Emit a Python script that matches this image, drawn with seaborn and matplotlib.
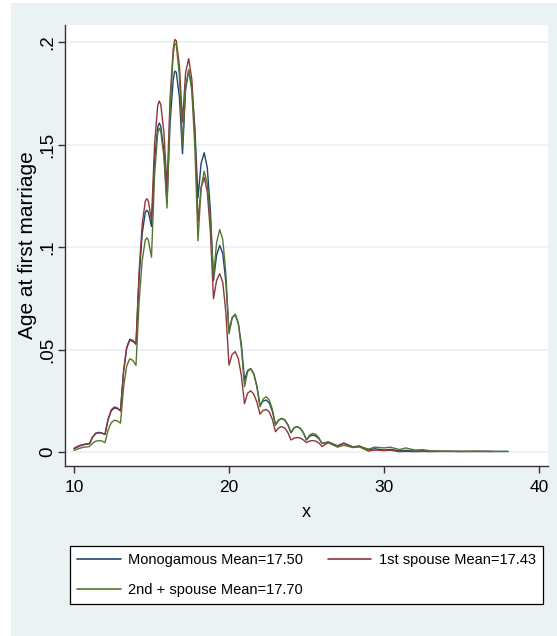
import numpy as np
import pandas as pd
import matplotlib
matplotlib.use("Agg")
import matplotlib.pyplot as plt
from matplotlib import font_manager
from matplotlib.patches import Rectangle
import seaborn as sns

# Kernel density of age at first marriage, evaluated on a common age grid
age = [
    10.0, 10.2, 10.4, 10.6, 10.8,
    11.0, 11.2, 11.4, 11.6, 11.8,
    12.0, 12.2, 12.4, 12.6, 12.8,
    13.0, 13.2, 13.4, 13.6, 13.8,
    14.0, 14.2, 14.4, 14.6, 14.7, 14.8,
    15.0, 15.2, 15.4, 15.5, 15.6, 15.8,
    16.0, 16.2, 16.4, 16.5, 16.6, 16.8,
    17.0, 17.2, 17.4, 17.6, 17.8,
    18.0, 18.2, 18.4, 18.6, 18.8,
    19.0, 19.2, 19.4, 19.6, 19.8,
    20.0, 20.2, 20.4, 20.6, 20.8,
    21.0, 21.2, 21.4, 21.6, 21.8,
    22.0, 22.2, 22.4, 22.6, 22.8,
    23.0, 23.2, 23.4, 23.6, 23.8,
    24.0, 24.2, 24.4, 24.6, 24.8,
    25.0, 25.2, 25.4, 25.6, 25.8,
    26.0, 26.4, 27.0, 27.4, 28.0, 28.4, 29.0, 29.4, 30.0, 30.4,
    31.0, 31.4, 32.0, 32.5, 33.0, 34.0, 35.0, 36.0, 37.0, 38.0,
]

monogamous = [
    .0016, .0024, .0030, .0035, .0038,
    .0040, .0073, .0092, .0096, .0093,
    .0086, .0158, .0201, .0215, .0212,
    .0202, .0395, .0511, .0550, .0545,
    .0528, .0851, .1065, .1169, .1180, .1170,
    .1100, .1423, .1585, .1605, .1589, .1465,
    .1215, .1605, .1817, .1858, .1853, .1731,
    .1455, .1769, .1860, .1782, .1575,
    .1240, .1408, .1460, .1386, .1178,
    .0837, .0961, .1008, .0968, .0827,
    .0587, .0655, .0672, .0630, .0523,
    .0351, .0398, .0407, .0382, .0322,
    .0229, .0248, .0254, .0239, .0199,
    .0132, .0156, .0164, .0156, .0133,
    .0094, .0118, .0124, .0115, .0094,
    .0059, .0077, .0083, .0078, .0065,
    .0042, .0050, .0030, .0044, .0025, .0030, .0012, .0016, .0010, .0013,
    .0006, .0008, .0005, .0006, .0004, .0003, .0003, .0003, .0003, .0003,
]

first_spouse = [
    .0018, .0027, .0033, .0037, .0040,
    .0042, .0073, .0090, .0094, .0092,
    .0086, .0160, .0205, .0220, .0215,
    .0200, .0392, .0507, .0545, .0540,
    .0525, .0878, .1110, .1224, .1236, .1223,
    .1130, .1502, .1689, .1712, .1695, .1560,
    .1290, .1727, .1965, .2012, .2006, .1884,
    .1610, .1851, .1919, .1819, .1553,
    .1120, .1288, .1340, .1270, .1072,
    .0748, .0837, .0870, .0827, .0679,
    .0424, .0476, .0490, .0456, .0372,
    .0236, .0287, .0299, .0282, .0244,
    .0185, .0203, .0208, .0195, .0159,
    .0099, .0118, .0124, .0117, .0095,
    .0059, .0068, .0071, .0068, .0059,
    .0046, .0054, .0056, .0053, .0044,
    .0027, .0046, .0030, .0042, .0024, .0026, .0005, .0010, .0007, .0009,
    .0002, .0003, .0002, .0003, .0002, .0004, .0003, .0004, .0003, np.nan,
]

second_spouse = [
    .0008, .0014, .0019, .0023, .0025,
    .0027, .0043, .0053, .0056, .0054,
    .0046, .0107, .0143, .0155, .0152,
    .0141, .0316, .0420, .0455, .0447,
    .0423, .0732, .0935, .1034, .1045, .1033,
    .0950, .1353, .1555, .1580, .1564, .1440,
    .1190, .1676, .1940, .1993, .1986, .1836,
    .1500, .1785, .1866, .1762, .1483,
    .1030, .1289, .1370, .1309, .1137,
    .0854, .1022, .1085, .1036, .0867,
    .0577, .0653, .0672, .0626, .0508,
    .0319, .0392, .0407, .0380, .0318,
    .0221, .0258, .0270, .0254, .0208,
    .0132, .0156, .0164, .0156, .0133,
    .0094, .0118, .0125, .0116, .0095,
    .0059, .0083, .0091, .0086, .0069,
    .0042, .0046, .0024, .0033, .0022, .0026, .0014, .0024, .0020, .0024,
    .0012, .0020, .0010, .0012, .0006, .0004, .0003, .0003, .0003, .0003,
]

groups = ["Monogamous", "1st spouse", "2nd + spouse"]
group_means = [17.50, 17.43, 17.70]
colors = ["#1A476F", "#90353B", "#55752F"]

y_ticks = [0, 0.05, 0.1, 0.15, 0.2]
y_tick_labels = ["0", ".05", ".1", ".15", ".2"]
x_ticks = [10, 20, 30, 40]
x_tick_labels = ["10", "20", "30", "40"]

sns.set_theme(style="white")

installed = {f.name for f in font_manager.fontManager.ttflist}
regular = "Liberation Sans" if "Liberation Sans" in installed else "DejaVu Sans"
narrow = "Liberation Sans Narrow" if "Liberation Sans Narrow" in installed else regular
has_narrow = narrow != regular

plt.rcParams["font.family"] = [regular, "DejaVu Sans"]
plt.rcParams["text.color"] = "black"
plt.rcParams["axes.labelcolor"] = "black"
plt.rcParams["xtick.color"] = "black"
plt.rcParams["ytick.color"] = "black"

# horizontal text sizes: condensed face when present, a smaller regular face otherwise
xtick_size = 14 if has_narrow else 12.5
xlabel_size = 15 if has_narrow else 13
legend_size = 12.5 if has_narrow else 10.5

W, H = 557, 636
bg = "#EAF2F3"

labels = [f"{g} Mean={m:.2f}" for g, m in zip(groups, group_means)]
frames = [
    pd.DataFrame({"x": age, "density": vals, "group": lab})
    for lab, vals in zip(labels, [monogamous, first_spouse, second_spouse])
]
df = pd.concat(frames, ignore_index=True).dropna()

fig = plt.figure(figsize=(W / 100, H / 100), dpi=100, facecolor="white")
fig.add_artist(Rectangle((11 / W, 0), 1 - 11 / W, 1 - 3 / H,
                         transform=fig.transFigure, facecolor=bg,
                         edgecolor="none", zorder=-5))

ax = fig.add_axes([65 / W, 1 - 466 / H, 483 / W, 441 / H])
ax.set_facecolor("white")

sns.lineplot(data=df, x="x", y="density", hue="group", hue_order=labels,
             palette=dict(zip(labels, colors)), estimator=None, sort=True,
             linewidth=1.0, ax=ax)

ax.set_xlim(9.42, 40.58)
ax.set_ylim(-0.0068, 0.2083)

ax.yaxis.grid(True, color=bg, linewidth=1.3)
ax.xaxis.grid(False)
ax.set_axisbelow(True)

for side in ["top", "right"]:
    ax.spines[side].set_visible(False)
for side in ["left", "bottom"]:
    ax.spines[side].set_color("#333333")
    ax.spines[side].set_linewidth(1.0)

ax.tick_params(axis="both", direction="out", length=5, width=1.0,
               color="#333333", bottom=True, left=True)
ax.tick_params(axis="x", pad=5)
ax.tick_params(axis="y", pad=1)

ax.set_xticks(x_ticks, x_tick_labels, fontsize=xtick_size, family=narrow)
ax.set_yticks(y_ticks, y_tick_labels, rotation=90, va="center",
              fontsize=13.5, family=regular)

ax.set_xlabel("x", fontsize=xlabel_size, family=narrow)
ax.xaxis.set_label_coords(0.5, -0.1166)
ax.xaxis.label.set_va("baseline")

ax.set_ylabel("Age at first marriage", fontsize=15, family=regular)
ax.yaxis.set_label_coords(-0.0776, 0.5)
ax.yaxis.label.set_va("center")

leg = ax.get_legend()
handles = list(leg.legend_handles)
texts = [t.get_text() for t in leg.texts]
leg.remove()

order = [0, 2, 1]
fig_leg = fig.legend([handles[i] for i in order], [texts[i] for i in order],
                     ncol=2, loc="center",
                     bbox_to_anchor=(70 / W, 1 - 609 / H, 473 / W, 68 / H),
                     mode="expand", frameon=True, fancybox=False,
                     edgecolor="black", facecolor="white", framealpha=1,
                     prop={"family": narrow, "size": legend_size},
                     handlelength=3.0, handletextpad=0.5, borderpad=0.5,
                     labelspacing=1.05, borderaxespad=0)
fig_leg.get_frame().set_linewidth(0.9)
for h in fig_leg.legend_handles:
    h.set_linewidth(1.2)

fig.savefig("out.png", dpi=100, facecolor=fig.get_facecolor())
